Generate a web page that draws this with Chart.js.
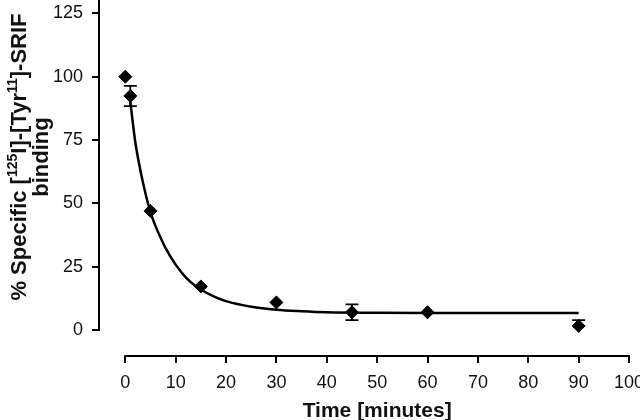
<!DOCTYPE html>
<html>
<head>
<meta charset="utf-8">
<script src="https://cdn.jsdelivr.net/npm/chart.js@4/dist/chart.umd.min.js"></script>
<style>
  html, body { margin: 0; padding: 0; background: #fff; }
  #wrap { width: 640px; height: 420px; }
</style>
</head>
<body>
<div id="wrap"><canvas id="chart" width="640" height="420"></canvas></div>
<script>
// measured points (time in minutes, % specific binding)
const timeMin = [0, 1, 5, 15, 30, 45, 60, 90];
const binding = [100, 92.4, 47, 17.2, 10.9, 7.0, 7.0, 1.6];
const errPlus = [0, 4, 0, 0, 0, 3.1, 0, 2.3];
const errMinus = [0, 4, 0, 0, 0, 3.1, 0, 0];

// fitted decay curve
const fitTime = [1, 2, 3, 4, 5, 6, 7, 8, 10, 12, 14, 16, 18, 20, 25, 30, 35, 40, 50, 60, 75, 90];
const fitValue = [90, 74, 63, 54, 46.5, 41, 36.5, 32.3, 25.8, 20.8, 17.3, 14.8, 12.9, 11.4, 9.2, 8.0, 7.4, 7.0, 6.8, 6.7, 6.7, 6.7];

const xTicks = [0, 10, 20, 30, 40, 50, 60, 70, 80, 90, 100];
const yTicks = [0, 25, 50, 75, 100, 125];

const xTitle = 'Time [minutes]';
const yTitleParts = [
  { text: '% Specific [', sup: false },
  { text: '125', sup: true },
  { text: 'I]-[Tyr', sup: false },
  { text: '11', sup: true },
  { text: ']-SRIF', sup: false }
];
const yTitleLine2 = 'binding';

const FONT = '"Liberation Sans", Arial, Helvetica, sans-serif';

const axesPlugin = {
  id: 'axesPlugin',
  afterDatasetsDraw(chart) {
    const ctx = chart.ctx;
    const xs = chart.scales.x;
    const ys = chart.scales.y;
    ctx.save();
    ctx.strokeStyle = '#000';
    ctx.lineWidth = 1.8;

    // error bars
    for (let i = 0; i < timeMin.length; i++) {
      const px = xs.getPixelForValue(timeMin[i]);
      const half = 6.5;
      const mid = ys.getPixelForValue(binding[i]);
      if (errPlus[i] > 0) {
        const top = ys.getPixelForValue(binding[i] + errPlus[i]);
        ctx.beginPath();
        ctx.moveTo(px, mid); ctx.lineTo(px, top);
        ctx.moveTo(px - half, top); ctx.lineTo(px + half, top);
        ctx.stroke();
      }
      if (errMinus[i] > 0) {
        const bot = ys.getPixelForValue(binding[i] - errMinus[i]);
        ctx.beginPath();
        ctx.moveTo(px, mid); ctx.lineTo(px, bot);
        ctx.moveTo(px - half, bot); ctx.lineTo(px + half, bot);
        ctx.stroke();
      }
    }

    // detached axis lines
    ctx.lineWidth = 2;
    const yAxisX = chart.chartArea.left;
    ctx.beginPath();
    ctx.moveTo(yAxisX, ys.getPixelForValue(0) + 1);
    ctx.lineTo(yAxisX, 0);
    ctx.stroke();

    const xAxisY = chart.chartArea.bottom;
    ctx.beginPath();
    ctx.moveTo(xs.getPixelForValue(0) - 1, xAxisY);
    ctx.lineTo(xs.getPixelForValue(100) + 1, xAxisY);
    ctx.stroke();

    // x title
    ctx.fillStyle = '#111';
    ctx.font = 'bold 21px ' + FONT;
    ctx.textAlign = 'center';
    ctx.textBaseline = 'alphabetic';
    ctx.fillText(xTitle, (xs.getPixelForValue(0) + xs.getPixelForValue(100)) / 2, 417);

    // y title (rotated, with superscripts)
    const mainFont = 'bold 22px ' + FONT;
    const supFont = 'bold 14px ' + FONT;
    let total = 0;
    yTitleParts.forEach(p => {
      ctx.font = p.sup ? supFont : mainFont;
      total += ctx.measureText(p.text).width;
    });
    ctx.translate(26, 157);
    ctx.rotate(-Math.PI / 2);
    ctx.textAlign = 'left';
    let cx = -total / 2;
    yTitleParts.forEach(p => {
      ctx.font = p.sup ? supFont : mainFont;
      ctx.fillText(p.text, cx, p.sup ? -9 : 0);
      cx += ctx.measureText(p.text).width;
    });
    ctx.font = mainFont;
    ctx.textAlign = 'center';
    ctx.fillText(yTitleLine2, 0, 22);
    ctx.restore();
  }
};

const ctx = document.getElementById('chart').getContext('2d');

new Chart(ctx, {
  type: 'scatter',
  data: {
    datasets: [
      {
        label: 'fit',
        data: fitTime.map((t, i) => ({ x: t, y: fitValue[i] })),
        showLine: true,
        borderColor: '#000',
        borderWidth: 2.5,
        pointRadius: 0,
        cubicInterpolationMode: 'monotone',
        order: 2
      },
      {
        label: 'binding',
        data: timeMin.map((t, i) => ({ x: t, y: binding[i] })),
        pointStyle: 'rectRot',
        pointRadius: 6.5,
        backgroundColor: '#000',
        borderColor: '#000',
        borderWidth: 1,
        order: 1
      }
    ]
  },
  options: {
    responsive: false,
    animation: false,
    devicePixelRatio: 1,
    layout: { autoPadding: false, padding: { top: 0, right: 11, bottom: 0, left: 0 } },
    plugins: {
      legend: { display: false },
      tooltip: { enabled: false }
    },
    scales: {
      x: {
        type: 'linear',
        min: -5.22,
        max: 100,
        afterBuildTicks: (scale) => { scale.ticks = xTicks.map(v => ({ value: v })); },
        afterFit: (scale) => {
          scale.height = 64;
          scale.paddingLeft = 0;
          scale.paddingRight = 0;
        },
        border: { display: false },
        grid: {
          display: true,
          drawOnChartArea: false,
          drawTicks: true,
          tickLength: 7,
          color: '#000',
          lineWidth: 2
        },
        ticks: {
          color: '#111',
          padding: 9,
          maxRotation: 0,
          autoSkip: false,
          font: { family: FONT, size: 18 }
        }
      },
      y: {
        type: 'linear',
        min: -10.26,
        max: 130.27,
        afterBuildTicks: (scale) => { scale.ticks = yTicks.map(v => ({ value: v })); },
        afterFit: (scale) => {
          scale.width = 99;
          scale.paddingTop = 0;
          scale.paddingBottom = 0;
        },
        border: { display: false },
        grid: {
          display: true,
          drawOnChartArea: false,
          drawTicks: true,
          tickLength: 7,
          color: '#000',
          lineWidth: 2
        },
        ticks: {
          color: '#111',
          padding: 9,
          autoSkip: false,
          font: { family: FONT, size: 18 }
        }
      }
    }
  },
  plugins: [axesPlugin]
});
</script>
</body>
</html>
